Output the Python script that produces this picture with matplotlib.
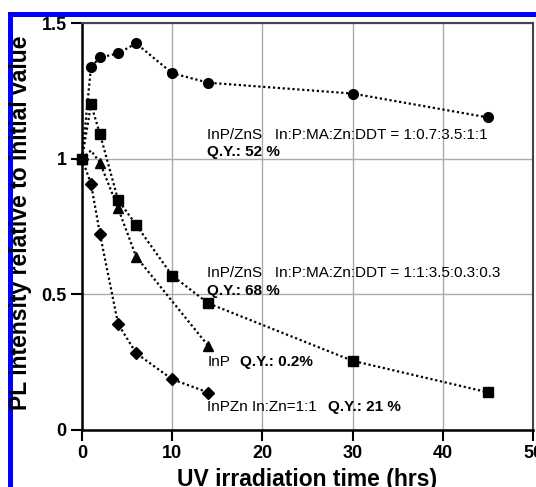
import matplotlib.pyplot as plt
from matplotlib.patches import Rectangle

plt.rcParams['font.family'] = ['Liberation Sans', 'DejaVu Sans']

# data
t_circ = [0, 1, 2, 4, 6, 10, 14, 30, 45]
y_circ = [1.00, 1.338, 1.373, 1.388, 1.425, 1.315, 1.28, 1.24, 1.152]

t_sq = [0, 1, 2, 4, 6, 10, 14, 30, 45]
y_sq = [1.00, 1.20, 1.09, 0.848, 0.756, 0.569, 0.467, 0.255, 0.139]

t_tri = [0, 1, 2, 4, 6, 14]
y_tri = [1.00, 1.03, 0.985, 0.817, 0.639, 0.31]

t_dia = [0, 1, 2, 4, 6, 10, 14]
y_dia = [1.00, 0.907, 0.721, 0.391, 0.283, 0.187, 0.138]

xticks = [0, 10, 20, 30, 40, 50]
yticks = [0, 0.5, 1, 1.5]
ylabels = ['0', '0.5', '1', '1.5']

fig = plt.figure(figsize=(5.36, 4.87), dpi=100)
ax = fig.add_axes([82/536, 1-430/487, 451/536, 407/487])

ls = dict(color='black', linestyle=(0, (1, 1.2)), linewidth=1.6, clip_on=False)
ax.plot(t_circ, y_circ, marker='o', markersize=7, **ls)
ax.plot(t_sq, y_sq, marker='s', markersize=7, **ls)
ax.plot(t_tri, y_tri, marker='^', markersize=7.5, markevery=[0, 2, 3, 4, 5], **ls)
ax.plot(t_dia, y_dia, marker='D', markersize=6.5, **ls)

ax.set_xlim(0, 50)
ax.set_ylim(0, 1.5)
ax.set_xticks(xticks)
ax.set_yticks(yticks)
ax.set_yticklabels(ylabels)
ax.grid(True, color='#aaaaaa', linewidth=1)
ax.set_axisbelow(True)
ax.tick_params(direction='out', length=8, width=1.5, labelsize=13, pad=3)
for lab in ax.get_xticklabels() + ax.get_yticklabels():
    lab.set_fontweight('bold')
for s in ['left', 'bottom']:
    ax.spines[s].set_linewidth(1.8)
for s in ['top', 'right']:
    ax.spines[s].set_linewidth(1.5)
    ax.spines[s].set_color('#444444')

ax.set_xlabel('UV irradiation time (hrs)', fontsize=16.5, fontweight='bold', labelpad=4)
fig.text(21/536, 1-223/487, 'PL intensity relative to initial value', rotation=90,
         fontsize=16.5, fontweight='bold', ha='center', va='center')

fs = 11
ax.text(13.9, 1.087, 'InP/ZnS   In:P:MA:Zn:DDT = 1:0.7:3.5:1:1', fontsize=fs, va='center')
ax.text(13.9, 1.025, 'Q.Y.: 52 %', fontsize=fs, fontweight='bold', va='center')
ax.text(13.9, 0.579, 'InP/ZnS   In:P:MA:Zn:DDT = 1:1:3.5:0.3:0.3', fontsize=fs, va='center')
ax.text(13.9, 0.512, 'Q.Y.: 68 %', fontsize=fs, fontweight='bold', va='center')
ax.text(13.9, 0.251, 'InP', fontsize=fs, va='center')
ax.text(17.5, 0.251, 'Q.Y.: 0.2%', fontsize=fs, fontweight='bold', va='center')
ax.text(13.9, 0.085, 'InPZn In:Zn=1:1', fontsize=fs, va='center')
ax.text(27.3, 0.085, 'Q.Y.: 21 %', fontsize=fs, fontweight='bold', va='center')

# blue frame pieces at top and left
fig.add_artist(Rectangle((8/536, 1-17/487), 1, 5/487, transform=fig.transFigure,
                         color='#0000ff', lw=0))
fig.add_artist(Rectangle((8/536, 0), 5/536, 1-12/487, transform=fig.transFigure,
                         color='#0000ff', lw=0))

fig.savefig('out.png', dpi=100)
